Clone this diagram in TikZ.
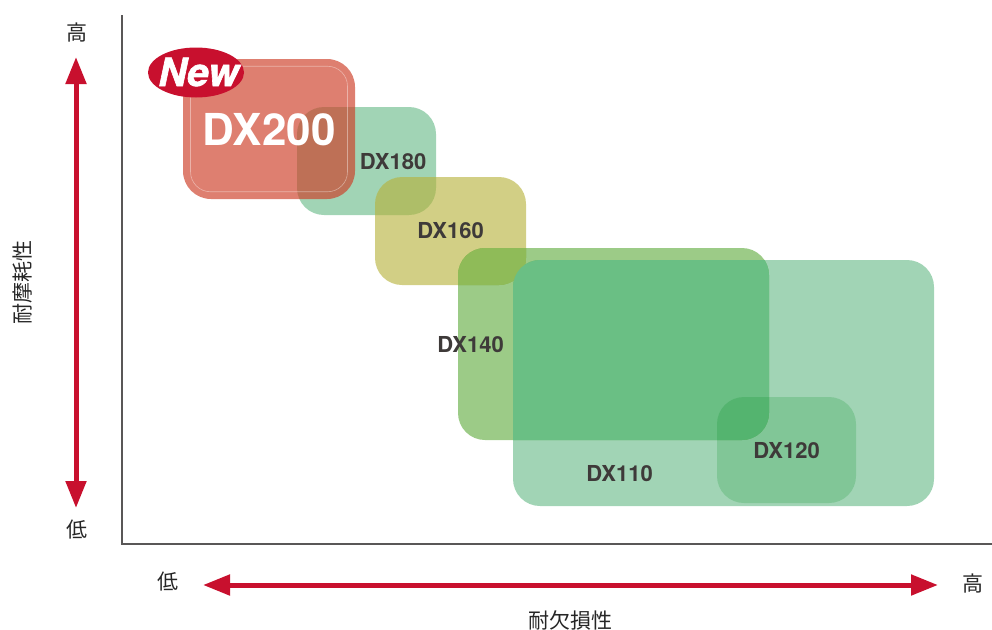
\documentclass[tikz,border=0pt]{standalone}
\usepackage{fontspec}
\setmainfont{TeX Gyre Heros}
\newfontfamily\cjkfont{Noto Sans CJK JP}
\newfontfamily\heavyfont{TeX Gyre Heros}[BoldItalicFeatures={FakeBold=1.6}]
\usetikzlibrary{arrows.meta,shapes.geometric}
\definecolor{brandred}{RGB}{200,16,46}
\definecolor{axisgrey}{RGB}{89,87,87}
\definecolor{labelgrey}{RGB}{62,58,57}
\definecolor{boxtwo}{RGB}{205,61,38}
\definecolor{boxgreen}{RGB}{0,139,55}
\definecolor{boxdeep}{RGB}{0,139,30}
\definecolor{boxolive}{RGB}{182,178,58}
\definecolor{boxleaf}{RGB}{45,145,0}
\definecolor{mixleafgreen}{RGB}{106,191,132}
\definecolor{mixleafolive}{RGB}{143,187,88}
\tikzset{
  x=1pt,y=-1pt,
  gradebox/.style={rectangle,inner sep=0pt,outer sep=0pt,draw=none},
  gradelabel/.style={text=labelgrey,font=\fontsize{22}{24}\selectfont\bfseries,inner sep=0pt},
  axislabel/.style={text=black!85,font=\cjkfont\fontsize{21}{23}\selectfont,inner sep=0pt},
  redarrow/.style={draw=brandred,line width=5pt,{Triangle[length=27pt,width=20pt]}-{Triangle[length=27pt,width=20pt]}},
  axisline/.style={draw=axisgrey,line width=1.5pt,line cap=butt,line join=miter}
}
\begin{document}
\begin{tikzpicture}
\useasboundingbox (0,0) rectangle (992,629);
% axes
\coordinate (axtop) at (122,15);
\coordinate (axorigin) at (122,544);
\coordinate (axright) at (992,544);
\draw[axisline] (axtop) -- (axorigin) -- (axright);
% boxes
\node[gradebox,fill=boxgreen,fill opacity=.37,minimum width=139pt,minimum height=108pt,rounded corners=27pt] (dx180) at (366.5,161) {};
\node[gradebox,fill=boxolive,fill opacity=.62,minimum width=151pt,minimum height=108pt,rounded corners=27pt] (dx160) at (450.5,231) {};
\node[gradebox,fill=boxgreen,fill opacity=.37,minimum width=421pt,minimum height=246pt,rounded corners=27pt] (dx110) at (723.5,383) {};
\node[gradebox,fill=boxleaf,fill opacity=.47,minimum width=311pt,minimum height=192pt,rounded corners=27pt] (dx140) at (613.5,344) {};
% overlaps of DX140 with its neighbours
\begin{scope}
  \clip[rounded corners=27pt] (dx160.north west) rectangle (dx160.south east);
  \fill[mixleafolive,rounded corners=27pt] (dx140.north west) rectangle (dx140.south east);
\end{scope}
\begin{scope}
  \clip[rounded corners=27pt] (dx110.north west) rectangle (dx110.south east);
  \fill[mixleafgreen,rounded corners=27pt] (dx140.north west) rectangle (dx140.south east);
\end{scope}
\node[gradebox,fill=boxdeep,fill opacity=.2,minimum width=139pt,minimum height=106pt,rounded corners=27pt] (dx120) at (786.5,450) {};
\node[gradebox,fill=boxtwo,fill opacity=.66,minimum width=172pt,minimum height=140pt,rounded corners=28pt] (dx200) at (269,129) {};
\node[gradebox,draw=white,draw opacity=.4,line width=.6pt,minimum width=157pt,minimum height=125.5pt,rounded corners=20pt] (dx200inner) at (269,129) {};
% labels
\node[text=white,font=\fontsize{44}{48}\selectfont\bfseries,inner sep=0pt] (l200) at (269,130) {DX200};
\node[gradelabel] (l180) at (393,162) {DX180};
\node[gradelabel] (l160) at (450.5,231) {DX160};
\node[gradelabel] (l140) at (470.5,345) {DX140};
\node[gradelabel] (l110) at (619.5,474) {DX110};
\node[gradelabel] (l120) at (786.5,451) {DX120};
% New badge
\node[ellipse,fill=brandred,inner sep=0pt,minimum width=96pt,minimum height=50pt] (newbadge) at (196,72.5) {};
\node[text=white,font=\heavyfont\fontsize{39}{42}\selectfont\bfseries\itshape,inner sep=0pt] (newtext) at (198.5,72) {New};
% vertical axis annotation
\node[axislabel] (yhigh) at (76.5,33) {高};
\node[axislabel] (ylow) at (76.5,530) {低};
\coordinate (ytip) at (76,57);
\coordinate (ybot) at (76,508);
\draw[redarrow] (ybot) -- (ytip);
\node[axislabel,rotate=90] (ytitle) at (22.5,282) {耐摩耗性};
% horizontal axis annotation
\node[axislabel] (xlow) at (167.5,582) {低};
\node[axislabel] (xhigh) at (973,583) {高};
\coordinate (xleft) at (203,585);
\coordinate (xright) at (938,585);
\draw[redarrow] (xleft) -- (xright);
\node[axislabel] (xtitle) at (570,620) {耐欠損性};
\end{tikzpicture}
\end{document}
